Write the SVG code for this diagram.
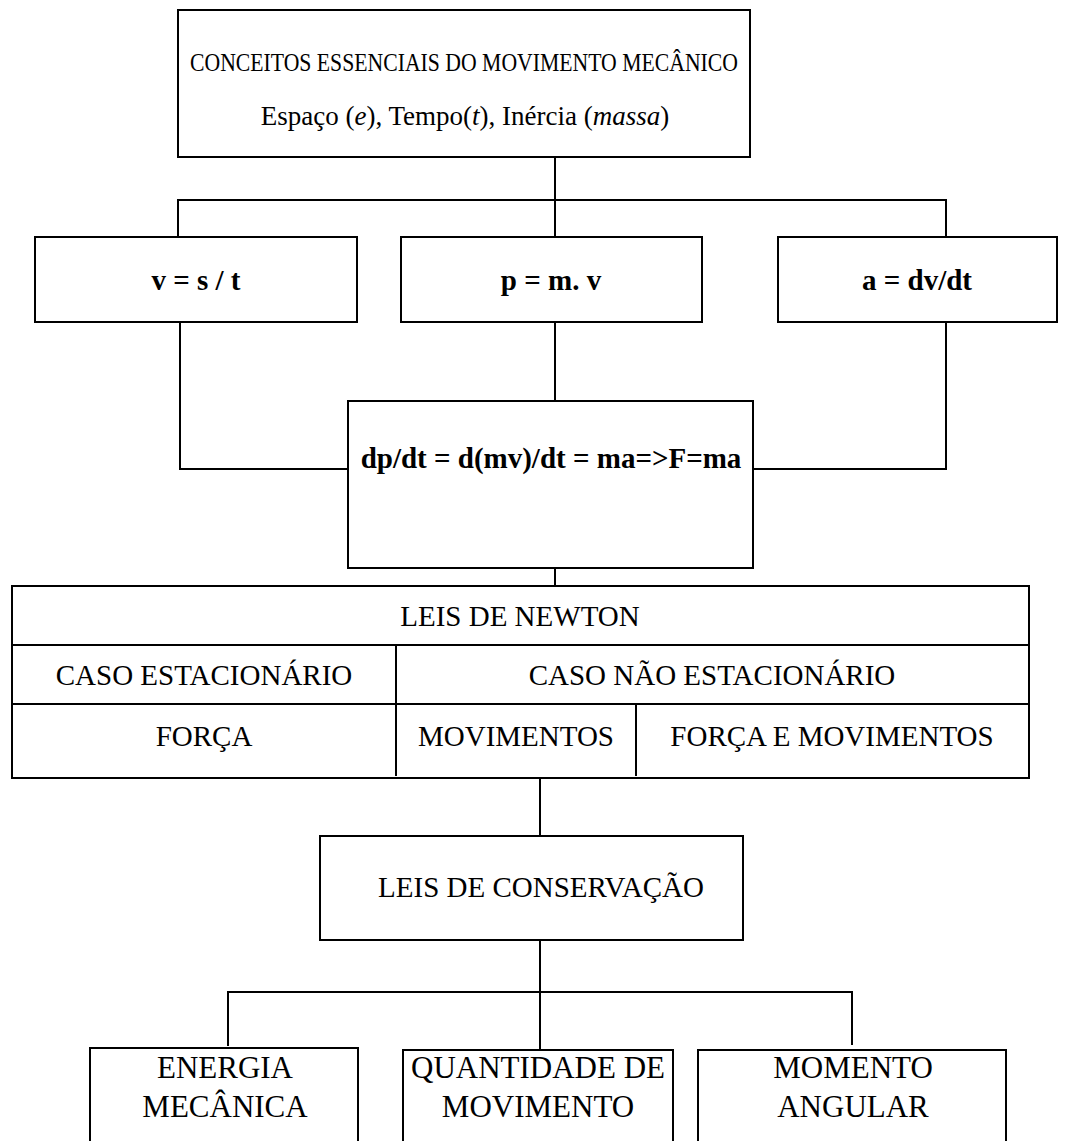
<svg xmlns="http://www.w3.org/2000/svg" width="1070" height="1141" viewBox="0 0 1070 1141">
  <style>
    .box { fill: #fff; stroke: #000; stroke-width: 2; }
    .rule { stroke: #000; stroke-width: 2; fill: none; }
    .wire { stroke: #000; stroke-width: 2; fill: none; }
    text { font-family: "Liberation Serif", "Times New Roman", serif; fill: #000; text-anchor: middle; }
    .t { font-size: 29px; }
    .tb { font-size: 29px; font-weight: bold; }
    .tl { font-size: 31px; }
  </style>
  <rect width="1070" height="1141" fill="#fff"/>

  <!-- connectors -->
  <g id="connectors">
    <path class="wire" d="M555,157 V237"/>
    <path class="wire" d="M178,237 V200 H946 V237"/>
    <path class="wire" d="M180,322 V469 H348"/>
    <path class="wire" d="M555,322 V401"/>
    <path class="wire" d="M946,322 V469 H753"/>
    <path class="wire" d="M555,568 V586"/>
    <path class="wire" d="M540,778 V836"/>
    <path class="wire" d="M540,940 V1050"/>
    <path class="wire" d="M228,1046 V992 H852 V1045"/>
  </g>

  <!-- basic concepts -->
  <g id="conceitos">
    <rect class="box" x="178" y="10" width="572" height="147"/>
    <text x="464" y="71" font-size="26" textLength="548" lengthAdjust="spacingAndGlyphs">CONCEITOS ESSENCIAIS DO MOVIMENTO MECÂNICO</text>
    <text x="465" y="125" font-size="27">Espaço (<tspan font-style="italic">e</tspan>), Tempo(<tspan font-style="italic">t</tspan>), Inércia (<tspan font-style="italic">massa</tspan>)</text>
  </g>

  <g id="velocidade">
    <rect class="box" x="35" y="237" width="322" height="85"/>
    <text class="tb" x="196" y="290">v = s / t</text>
  </g>

  <g id="momento-linear">
    <rect class="box" x="401" y="237" width="301" height="85"/>
    <text class="tb" x="551" y="290">p = m. v</text>
  </g>

  <g id="aceleracao">
    <rect class="box" x="778" y="237" width="279" height="85"/>
    <text class="tb" x="917" y="290">a = dv/dt</text>
  </g>

  <g id="forca">
    <rect class="box" x="348" y="401" width="405" height="167"/>
    <text class="tb" x="551" y="468">dp/dt = d(mv)/dt = ma=&gt;F=ma</text>
  </g>

  <!-- Newton's laws table -->
  <g id="leis-newton">
    <rect class="box" x="12" y="586" width="1017" height="192"/>
    <path class="rule" d="M12,645 H1029 M12,704 H1029 M396,645 V776 M636,704 V776"/>
    <text class="t" x="520" y="626">LEIS DE NEWTON</text>
    <text class="t" x="204" y="685">CASO ESTACIONÁRIO</text>
    <text class="t" x="712" y="685">CASO NÃO ESTACIONÁRIO</text>
    <text class="t" x="204" y="746">FORÇA</text>
    <text class="t" x="516" y="746">MOVIMENTOS</text>
    <text class="t" x="832" y="746">FORÇA E MOVIMENTOS</text>
  </g>

  <g id="leis-conservacao">
    <rect class="box" x="320" y="836" width="423" height="104"/>
    <text class="t" x="541" y="897">LEIS DE CONSERVAÇÃO</text>
  </g>

  <g id="energia">
    <rect class="box" x="90" y="1048" width="268" height="120"/>
    <text class="tl" x="225" y="1078">ENERGIA</text>
    <text class="tl" x="225" y="1117">MECÂNICA</text>
  </g>

  <g id="quantidade">
    <rect class="box" x="403" y="1050" width="270" height="120"/>
    <text class="tl" x="538" y="1078">QUANTIDADE DE</text>
    <text class="tl" x="538" y="1117">MOVIMENTO</text>
  </g>

  <g id="momento-angular">
    <rect class="box" x="698" y="1050" width="308" height="120"/>
    <text class="tl" x="853" y="1078">MOMENTO</text>
    <text class="tl" x="853" y="1117">ANGULAR</text>
  </g>
</svg>
